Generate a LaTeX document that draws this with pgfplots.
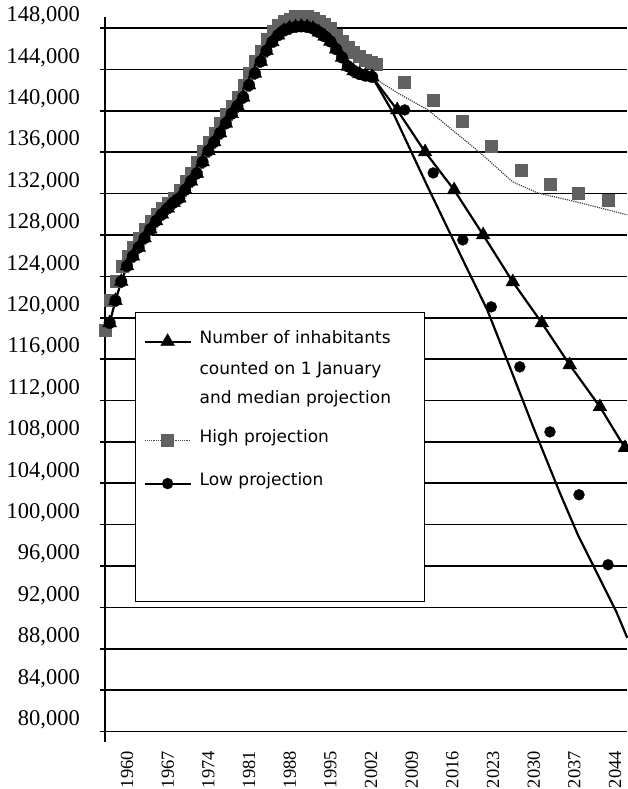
\documentclass[border=0pt]{standalone}
\usepackage{fontspec}
\setmainfont{Liberation Serif}
\newfontfamily\legfont{DejaVu Sans}
\usepackage{pgfplots}
\usepackage{pgfplotstable}
\pgfplotsset{compat=1.18}

% historical series (median / low), x = position on the chart's year axis
\pgfplotstableread{
year value
1957 119500
1958 121650
1959 123500
1960 125000
1961 125950
1962 126800
1963 127700
1964 128550
1965 129350
1966 130000
1967 130580
1968 131120
1969 131550
1970 132370
1971 133200
1972 133950
1973 135050
1974 136130
1975 136990
1976 137850
1977 138790
1978 139720
1979 140470
1980 141300
1981 142480
1982 143620
1983 144770
1984 145800
1985 146650
1986 147300
1987 147750
1988 148000
1989 148100
1990 148150
1991 148100
1992 147950
1993 147600
1994 147200
1995 146700
1996 145950
1997 145150
1998 144300
1999 143850
2000 143560
2001 143400
2002.2 143270
}\hist

\pgfplotstableread{
year value
2002.2 143270
2006.5 140080
2011.3 136020
2016.3 132350
2021.3 128000
2026.4 123460
2031.4 119500
2036.2 115440
2041.4 111390
2045.7 107430
}\medproj

\pgfplotstableread{
year value
1956.3 118800
1957.1 121650
1958.1 123500
1959.1 125000
1960.1 125950
1961.1 126800
1962.1 127700
1963.1 128550
1964.1 129350
1965.1 130000
1966.1 130580
1967.1 131120
1968.1 131550
1969.1 132370
1970.1 133200
1971.1 133950
1972.1 135050
1973.1 136130
1974.1 136990
1975.1 137850
1976.1 138790
1977.1 139720
1978.1 140470
1979.1 141300
1980.1 142480
1981.1 143620
1982.1 144770
1983.1 145800
1984.1 146900
1985.1 147700
1986 148250
1987 148650
1988 148900
1989 149100
1990 149160
1991 149100
1992 148970
1993 148700
1994 148350
1995 147950
1996 147350
1997 146750
1998 146150
1999 145650
2000 145250
2001 144900
2002 144650
2002.9 144500
2007.7 142780
2012.7 141040
2017.7 139020
2022.7 136600
2027.8 134280
2032.8 132930
2037.6 132060
2042.8 131380
}\highpts

\pgfplotstableread{
year value
2002.2 143270
2007.0 141580
2011.8 140080
2016.0 138140
2020.8 135930
2026.4 133120
2030.7 132060
2037.4 131190
2046.1 129940
}\highline

\pgfplotstableread{
year value
2002.2 143270
2005.8 139790
2011.6 132830
2017.8 125590
2022.0 120760
2025.4 115930
2029.9 109460
2034.5 103080
2037.6 99020
2044.3 91490
2046.1 89070
}\lowline

\pgfplotstableread{
year value
2007.8 140080
2012.7 133990
2017.8 127520
2022.7 121050
2027.6 115250
2032.8 108970
2037.8 102890
2042.8 96130
}\lowcirc

\colorlet{highgray}{black!62}
\colorlet{highline}{black!72}

\begin{document}
\begin{tikzpicture}
\begin{axis}[
  scale only axis,
  width=522pt, height=725.4pt,
  xmin=1956.2, xmax=2046.06,
  ymin=79000, ymax=149100,
  clip=false,
  axis y line*=left,
  axis x line*=bottom,
  x axis line style={draw=none},
  y axis line style={-, line width=1.6pt, black},
  ytick={80000,84000,...,148000},
  ymajorgrids,
  major grid style={black, line width=1.6pt},
  tick align=outside,
  ytick style={black, line width=1.6pt},
  major tick length=5pt,
  xtick={1960,1967,1974,1981,1988,1995,2002,2009,2016,2023,2030,2037,2044},
  xticklabels={1960,1967,1974,1981,1988,1995,2002,2009,2016,2023,2030,2037,2044},
  xtick style={draw=none},
  scaled y ticks=false,
  /pgf/number format/fixed,
  /pgf/number format/precision=0,
  /pgf/number format/1000 sep={,},
  /pgf/number format/assume math mode=true,
  yticklabel style={font=\fontsize{22.5}{24}\selectfont, anchor=east, inner sep=0pt, yshift=12pt},
  yticklabel shift=20pt,
  xticklabel style={font=\fontsize{18.5}{20}\selectfont, rotate=90, anchor=east, inner sep=0pt},
  xticklabel shift=4pt,
  legend image code/.code={\draw[mark repeat=2,mark phase=2,#1] plot coordinates {(0pt,2pt) (23pt,2pt) (46pt,2pt)};},
  legend style={at={(axis description cs:0.0575,0.5928)}, anchor=north west,
    draw=black, line width=1.2pt, fill=white,
    inner xsep=8pt, inner ysep=0pt, column sep=8pt, row sep=0pt,
    font=\legfont\fontsize{17}{20}\selectfont,
    cells={anchor=base west},
    nodes={inner sep=0pt, text depth=}},
]
% high projection
\addplot[forget plot, highline, line width=1.2pt, densely dotted] table[x=year,y=value]{\highline};
\addplot[forget plot, only marks, mark=square*, mark size=6pt, highgray, mark options={solid, fill=highgray, line width=0.3pt}] table[x=year,y=value]{\highpts};
% low projection
\addplot[forget plot, black, line width=2.2pt] table[x=year,y=value]{\lowline};
\addplot[forget plot, only marks, mark=*, mark size=5.8pt, black, mark options={solid, line width=0.3pt}] table[x=year,y=value]{\hist};
\addplot[forget plot, only marks, mark=*, mark size=5.5pt, black, mark options={solid, line width=0.3pt}] table[x=year,y=value]{\lowcirc};
% median
\addplot[forget plot, black, line width=2.2pt, mark=triangle*, mark size=8pt, mark options={solid, line width=0.3pt}] table[x=year,y=value]{\hist};
\addplot[forget plot, black, line width=2.2pt, mark=triangle*, mark size=8pt, mark options={solid, line width=0.3pt}] table[x=year,y=value]{\medproj};

\addlegendimage{black, line width=2pt, mark=triangle*, mark size=8pt, mark options={solid, line width=0.3pt}}
\addlegendentry{\rule[-17pt]{0pt}{48pt}\makebox[217pt][l]{Number of inhabitants}}
\addlegendimage{empty legend}
\addlegendentry{\rule[-15pt]{0pt}{29pt}counted on 1 January}
\addlegendimage{empty legend}
\addlegendentry{\rule[-25pt]{0pt}{39pt}and median projection}
\addlegendimage{highline, line width=1.2pt, densely dotted, mark=square*, mark size=6pt, mark options={solid, fill=highgray, draw=highgray, line width=0.3pt}}
\addlegendentry{\rule[-29pt]{0pt}{43pt}High projection}
\addlegendimage{black, line width=2pt, mark=*, mark size=5.5pt, mark options={solid, line width=0.3pt}}
\addlegendentry{\rule[-116pt]{0pt}{130pt}Low projection}
\end{axis}
\pgfresetboundingbox
\useasboundingbox (-105pt,-47pt) rectangle (522pt,742pt);
\end{tikzpicture}
\end{document}
